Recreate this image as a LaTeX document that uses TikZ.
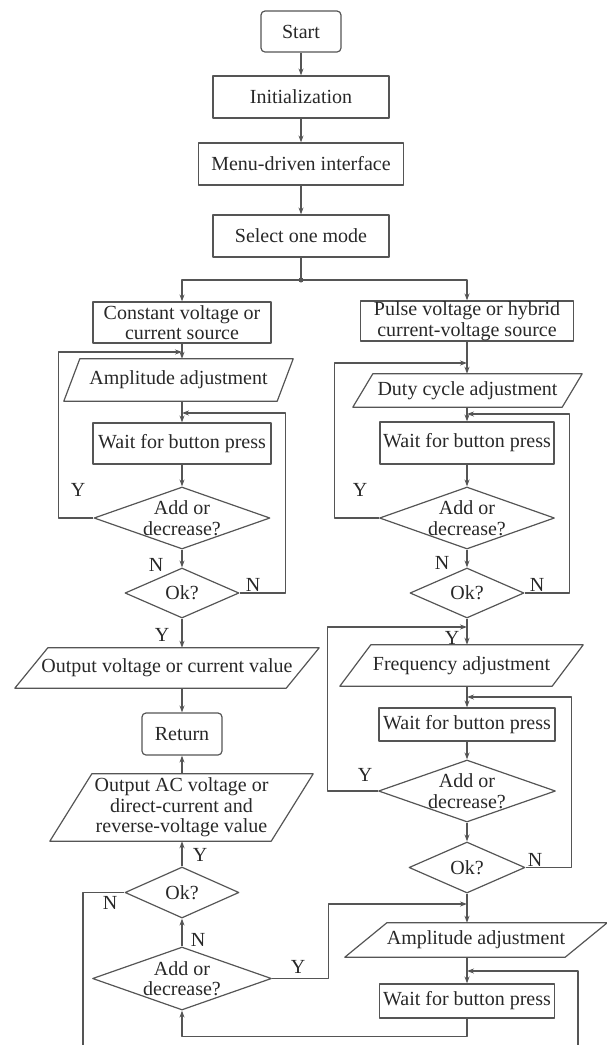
\documentclass[tikz,border=0pt]{standalone}
\usepackage{fontspec}
\setmainfont{Liberation Serif}
\usetikzlibrary{shapes.geometric,arrows.meta}
\definecolor{wirecol}{RGB}{85,85,85}
\definecolor{ink}{RGB}{40,40,40}
\begin{document}
\begin{tikzpicture}[x=1pt,y=-1pt,>={Stealth[length=7pt,width=5pt]},line join=round,
    font=\fontsize{20}{20.5}\selectfont,text=ink,
    wire/.style={draw=wirecol,line width=1.2pt},
    box/.style={rectangle,wire,inner sep=0pt,align=center},
    term/.style={box,rounded corners=4pt},
    io/.style={rectangle,inner sep=0pt,align=center},
    decision/.style={diamond,wire,inner sep=0pt},
    yn/.style={inner sep=0pt}]
    \useasboundingbox (0,0) rectangle (607,1045);
    % main line
    \node[term,minimum width=80pt,minimum height=41pt] (start) at (301,31.5) {Start};
    \node[box,minimum width=176pt,minimum height=42pt] (init) at (301,97) {Initialization};
    \node[box,minimum width=205pt,minimum height=42pt] (menu) at (301,164) {Menu-driven interface};
    \node[box,minimum width=176pt,minimum height=42pt] (sel) at (301,236) {Select one mode};
    \coordinate (split) at (301,280);
    % left branch
    \node[box,minimum width=178pt,minimum height=41pt] (constL) at (182,322.5) {Constant voltage or\\current source};
    \node[io,minimum width=229pt,minimum height=42pt] (ampL) at (178.5,380) {Amplitude adjustment};
    \node[box,minimum width=178pt,minimum height=41pt] (waitL1) at (182,443.5) {Wait for button press};
    \node[decision,minimum width=176pt,minimum height=62pt,label={[align=center]center:Add or\\decrease?}] (addL1) at (182,518) {};
    \node[decision,minimum width=114pt,minimum height=50pt] (okL1) at (182,593) {Ok?};
    \node[io,minimum width=304pt,minimum height=40pt] (outv) at (167,668) {Output voltage or current value};
    \node[term,minimum width=80pt,minimum height=42pt] (ret) at (182,734) {Return};
    \node[io,minimum width=263pt,minimum height=67pt] (outac) at (181.5,807.5) {Output AC voltage or\\direct-current and\\reverse-voltage value};
    \node[decision,minimum width=114pt,minimum height=51pt] (okL2) at (182,892.5) {Ok?};
    \node[decision,minimum width=179pt,minimum height=63pt,label={[align=center]center:Add or\\decrease?}] (addL2) at (182,978.5) {};
    % right branch
    \node[box,minimum width=213pt,minimum height=40pt] (pulse) at (467,321) {Pulse voltage or hybrid\\current-voltage source};
    \node[io,minimum width=229pt,minimum height=33pt] (duty) at (467.5,390.5) {Duty cycle adjustment};
    \node[box,minimum width=174pt,minimum height=42pt] (waitR1) at (467,443) {Wait for button press};
    \node[decision,minimum width=175pt,minimum height=62pt,label={[align=center]center:Add or\\decrease?}] (addR1) at (467,518) {};
    \node[decision,minimum width=114pt,minimum height=50pt] (okR1) at (467,593) {Ok?};
    \node[io,minimum width=243pt,minimum height=41pt] (freq) at (461.5,665.5) {Frequency adjustment};
    \node[box,minimum width=176pt,minimum height=33pt] (waitR2) at (467,724.5) {Wait for button press};
    \node[decision,minimum width=177pt,minimum height=62pt,label={[align=center]center:Add or\\decrease?}] (addR2) at (467,791) {};
    \node[decision,minimum width=116pt,minimum height=51pt] (okR2) at (467,867.5) {Ok?};
    \node[io,minimum width=262pt,minimum height=34pt] (ampR) at (476,940) {Amplitude adjustment};
    \node[box,minimum width=175pt,minimum height=34pt] (waitR3) at (467,1001) {Wait for button press};
    % parallelogram outlines
    \foreach \n/\s in {ampL/16,outv/33,outac/42,duty/20,freq/31,ampR/42}
        \draw[wire] ([xshift=\s pt]\n.north west) -- (\n.north east) -- ([xshift=-\s pt]\n.south east) -- (\n.south west) -- cycle;
    % joints of the loops
    \coordinate (jL1) at (182,352);
    \coordinate (jL2) at (182,413);
    \coordinate (jR1) at (467,363);
    \coordinate (jR2) at (467,414);
    \coordinate (jR5) at (467,627);
    \coordinate (jR6) at (467,697);
    \coordinate (jR3) at (467,904);
    \coordinate (jR4) at (467,971);
    \coordinate (eL) at (83,1045);
    \coordinate (eR) at (578,1045);
    % connectors
    \draw[wire,->] (start) -- (init);
    \draw[wire,->] (init) -- (menu);
    \draw[wire,->] (menu) -- (sel);
    \draw[wire] (sel) -- (split);
    \draw[wire,->] (split) -| (constL);
    \draw[wire,->] (split) -| (pulse);
    \fill[wirecol] (split) circle (2.5pt);
    \draw[wire,->] (constL) -- (constL.south |- ampL.north);
    \draw[wire,->] (ampL.south -| waitL1.north) -- (waitL1);
    \draw[wire,->] (waitL1) -- (addL1);
    \draw[wire,->] (addL1) -- (okL1);
    \draw[wire,->] (okL1.south) -- (okL1.south |- outv.north);
    \draw[wire,->] (outv.south -| ret.north) -- (ret);
    \draw[wire,->] (outac.north -| ret.south) -- (ret);
    \draw[wire,->] (okL2) -- (okL2.north |- outac.south);
    \draw[wire,->] (addL2) -- (okL2);
    \draw[wire,->] (addL1.west) -- ++(-35,0) |- (jL1);
    \draw[wire,->] (okL1.east) -- ++(46,0) |- (jL2);
    \draw[wire] (okL2.west) -| (eL);
    \draw[wire,->] (addL2.east) -- ++(56.5,0) |- (jR3);
    \draw[wire,->] (waitR3.south) -- ++(0,18) -| (addL2.south);
    \draw[wire,->] (pulse) -- (pulse.south |- duty.north);
    \draw[wire,->] (duty.south -| waitR1.north) -- (waitR1);
    \draw[wire,->] (waitR1) -- (addR1);
    \draw[wire,->] (addR1) -- (okR1);
    \draw[wire,->] (okR1.south) -- (okR1.south |- freq.north);
    \draw[wire,->] (freq.south -| waitR2.north) -- (waitR2);
    \draw[wire,->] (waitR2) -- (addR2);
    \draw[wire,->] (addR2) -- (okR2);
    \draw[wire,->] (okR2.south) -- (okR2.south |- ampR.north);
    \draw[wire,->] (ampR.south -| waitR3.north) -- (waitR3);
    \draw[wire,->] (addR1.west) -- ++(-44.5,0) |- (jR1);
    \draw[wire,->] (okR1.east) -- ++(45,0) |- (jR2);
    \draw[wire,->] (addR2.west) -- ++(-50.5,0) |- (jR5);
    \draw[wire,->] (okR2.east) -- ++(46,0) |- (jR6);
    \draw[wire,->] (eR) |- (jR4);
    % Y / N marks
    \node[yn] (yL1) at (78,490) {Y};
    \node[yn] (nL1) at (156,565) {N};
    \node[yn] (nL2) at (253,585) {N};
    \node[yn] (yL2) at (162,635) {Y};
    \node[yn] (yL3) at (200,855) {Y};
    \node[yn] (nL3) at (110,903) {N};
    \node[yn] (nL4) at (198,940) {N};
    \node[yn] (yL4) at (298,967) {Y};
    \node[yn] (yR1) at (360,490) {Y};
    \node[yn] (nR1) at (442,563) {N};
    \node[yn] (nR2) at (537,585) {N};
    \node[yn] (yR2) at (452,638) {Y};
    \node[yn] (yR3) at (365,775) {Y};
    \node[yn] (nR3) at (535,860) {N};
\end{tikzpicture}
\end{document}
